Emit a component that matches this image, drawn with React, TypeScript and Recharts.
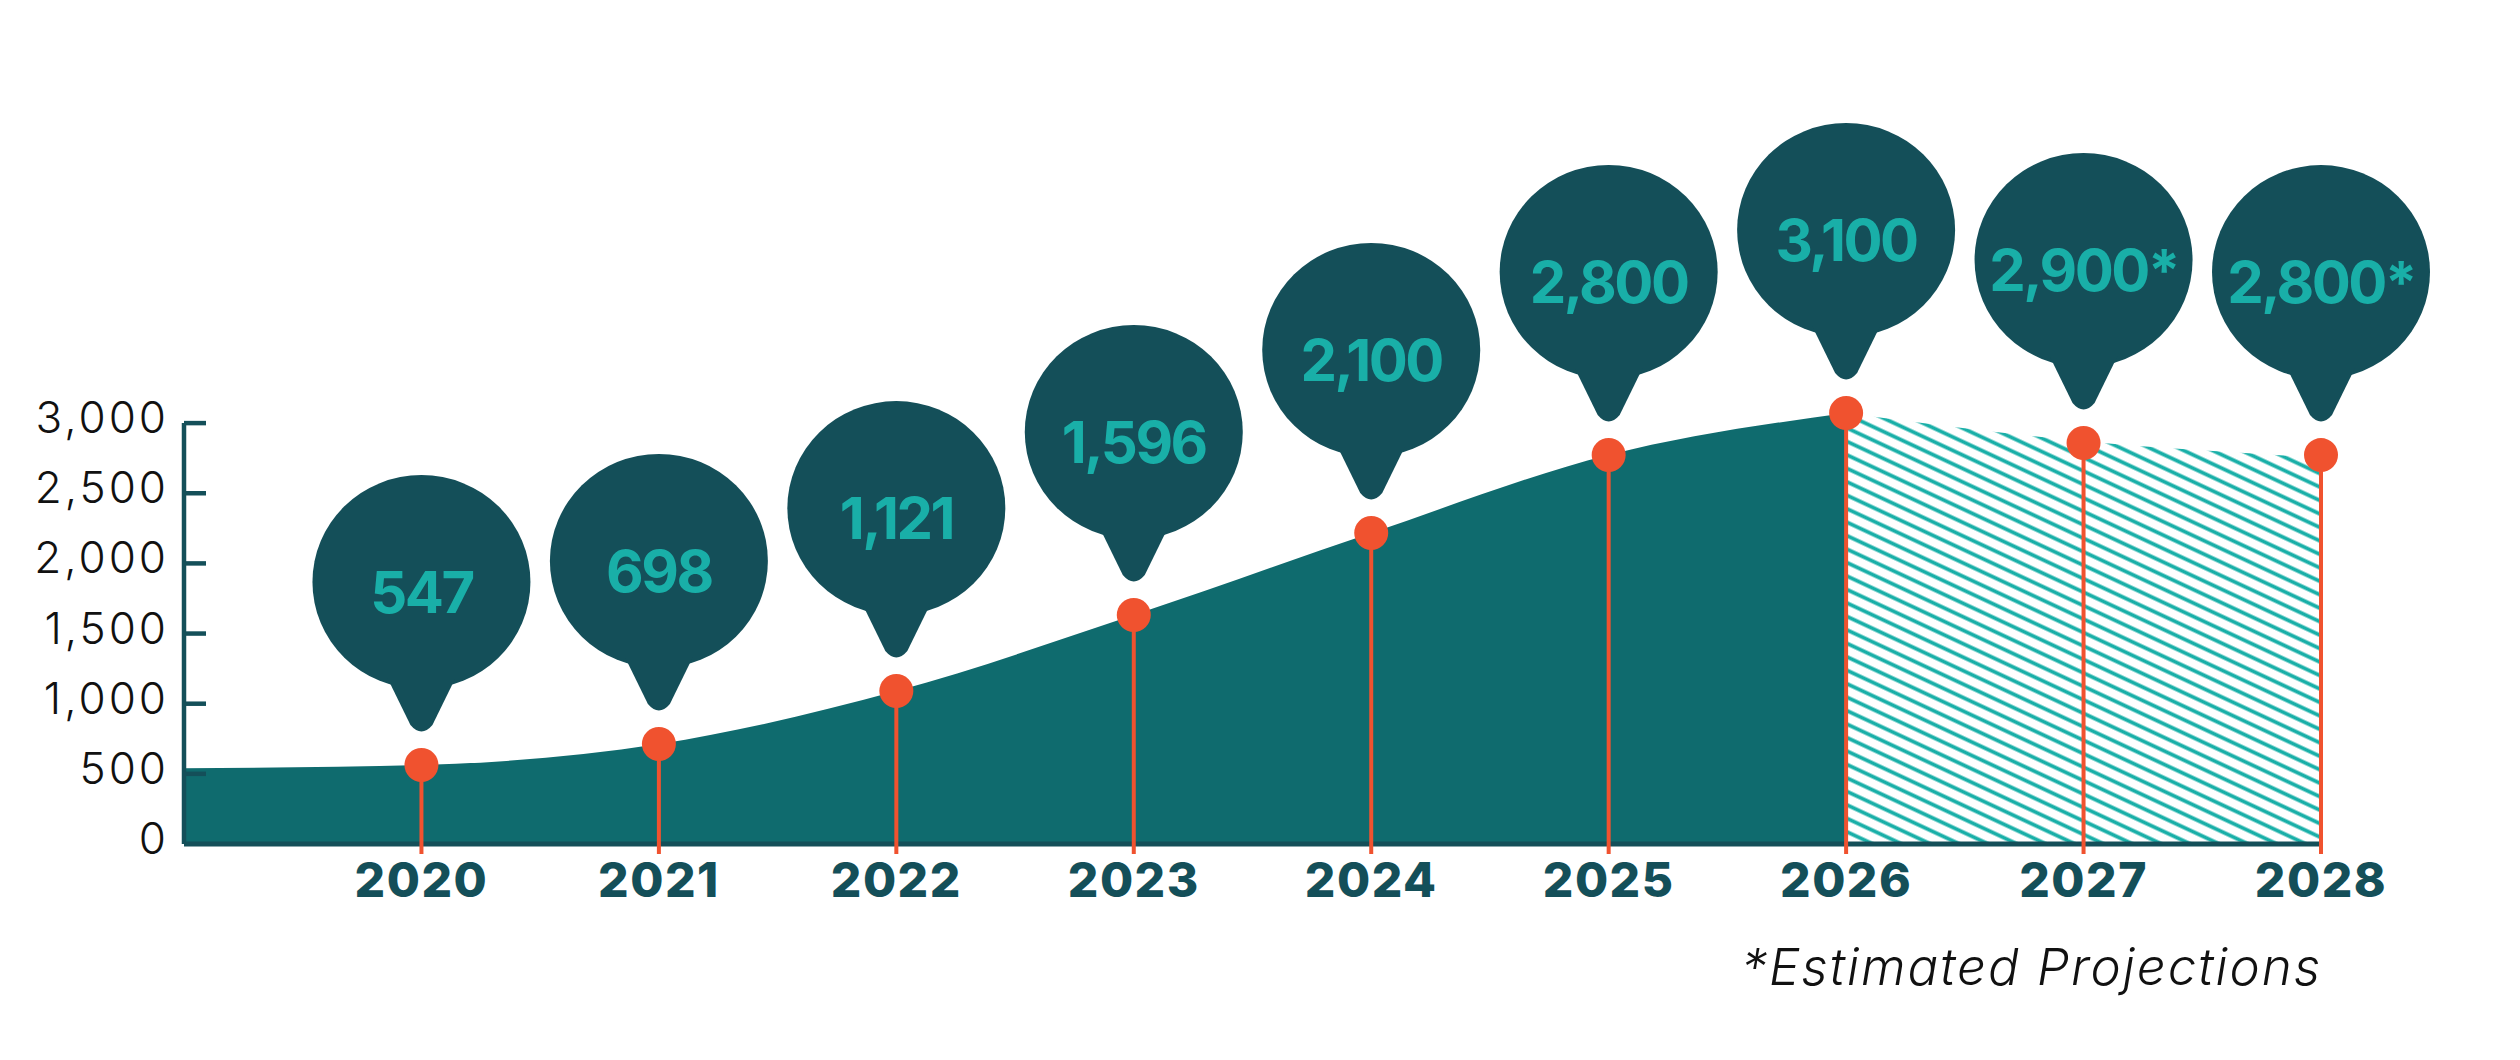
import { ComposedChart, Area, Scatter, XAxis, YAxis, ReferenceLine } from 'recharts';

// area outline (2019 is the unlabeled lead-in at the y axis)
const AREA_YEARS = [2019, 2020, 2021, 2022, 2023, 2024, 2025, 2026, 2027, 2028];
const ACTUAL = [540, 563, 713, 1090, 1632, 2217, 2773, 3072, null, null];
const PROJECTED = [null, null, null, null, null, null, null, 3072, 2870, 2755];

// pins
const YEARS = [2020, 2021, 2022, 2023, 2024, 2025, 2026, 2027, 2028];
const PIN_VALUES = [563, 713, 1090, 1632, 2217, 2773, 3072, 2858, 2772];
const PIN_LABELS = ['547', '698', '1,121', '1,596', '2,100', '2,800', '3,100', '2,900*', '2,800*'];

const Y_TICKS = [0, 500, 1000, 1500, 2000, 2500, 3000];

const WIDTH = 2504;
const HEIGHT = 1044;
// top margin puts the 3,000 tick where the reference has it (domain runs to the data max)
const MARGIN = { top: 405, right: 191, bottom: 148, left: 0 };
const Y_AXIS_WIDTH = 176;
const X_AXIS_HEIGHT = 60;
const PLOT_BOTTOM = HEIGHT - MARGIN.bottom - X_AXIS_HEIGHT;

const DARK = '#144F59';
const AREA = '#0F6B6E';
const TEAL = '#19AFA8';
const ORANGE = '#F0522F';
const FONT = 'Inter, Lato, sans-serif';

const areaData = AREA_YEARS.map((year, i) => ({ year, actual: ACTUAL[i], projected: PROJECTED[i] }));
const pinData = YEARS.map((year, i) => ({ year, value: PIN_VALUES[i], label: PIN_LABELS[i] }));

function YTick({ x, y, payload }: any) {
  return (
    <g>
      {payload.value !== 0 && <line x1={x} y1={y} x2={x + 22} y2={y} stroke={DARK} strokeWidth={4.5} />}
      <text x={x - 15} y={y + 10} textAnchor="end" fontFamily={FONT} fontWeight={300} fontSize={44} letterSpacing={3} fill="#111">
        {payload.value.toLocaleString('en-US')}
      </text>
    </g>
  );
}

function XTick({ x, y, payload }: any) {
  return (
    <text x={x} y={y + 53} textAnchor="middle" fontFamily={FONT} fontWeight={800} fontSize={48} letterSpacing={1.5} fill={DARK}>
      {payload.value}
    </text>
  );
}

function Pin(props: any) {
  const { cx, cy, payload } = props;
  const by = cy - 183; // balloon centre
  return (
    <g>
      <line x1={cx} y1={cy} x2={cx} y2={PLOT_BOTTOM + 10} stroke={ORANGE} strokeWidth={4} />
      <circle cx={cx} cy={cy} r={17} fill={ORANGE} />
      <g transform={`translate(${cx},${by})`}>
        <ellipse cx={0} cy={0} rx={109} ry={107} fill={DARK} />
        <path d="M -34 96 L -11 143 Q 0 156 11 143 L 34 96 Z" fill={DARK} />
        <text x={0} y={31} textAnchor="middle" fontFamily={FONT} fontWeight={700} fontSize={58} letterSpacing={-2.5} fill={TEAL}>
          {payload.label}
        </text>
      </g>
    </g>
  );
}

export default function App() {
  return (
    <div style={{ position: 'relative', width: WIDTH, height: HEIGHT, background: '#fff' }}>
      <ComposedChart width={WIDTH} height={HEIGHT} data={areaData} margin={MARGIN}>
        <defs>
          <pattern id="hatch" patternUnits="userSpaceOnUse" width={40} height={12.2} patternTransform="rotate(25)">
            <line x1={0} y1={6.1} x2={40} y2={6.1} stroke={TEAL} strokeWidth={3.6} />
          </pattern>
        </defs>
        <XAxis
          dataKey="year"
          type="number"
          domain={[2019, 2028]}
          ticks={YEARS}
          interval={0}
          height={X_AXIS_HEIGHT}
          axisLine={{ stroke: DARK, strokeWidth: 5 }}
          tickLine={false}
          tickSize={0}
          tickMargin={0}
          tick={<XTick />}
        />
        <YAxis
          type="number"
          domain={[0, 'dataMax']}
          ticks={Y_TICKS}
          interval={0}
          width={Y_AXIS_WIDTH}
          axisLine={false}
          tickLine={false}
          tickSize={0}
          tickMargin={0}
          tick={<YTick />}
        />
        <Area type="monotone" dataKey="actual" stroke="none" fill={AREA} fillOpacity={1} isAnimationActive={false} />
        <Area type="monotone" dataKey="projected" stroke="none" fill="url(#hatch)" fillOpacity={1} isAnimationActive={false} />
        <ReferenceLine
          segment={[{ x: 2019, y: 0 }, { x: 2019, y: 3000 }]}
          stroke={DARK}
          strokeWidth={4.5}
        />
        <Scatter data={pinData} dataKey="value" shape={<Pin />} isAnimationActive={false} />
      </ComposedChart>
      <svg width={WIDTH} height={HEIGHT} style={{ position: 'absolute', left: 0, top: 0, pointerEvents: 'none' }}>
        <text x={2314} y={977} textAnchor="end" fontFamily={FONT} fontWeight={300} fontStyle="italic" fontSize={51} letterSpacing={2} fill="#111">
          *Estimated Projections
        </text>
      </svg>
    </div>
  );
}
